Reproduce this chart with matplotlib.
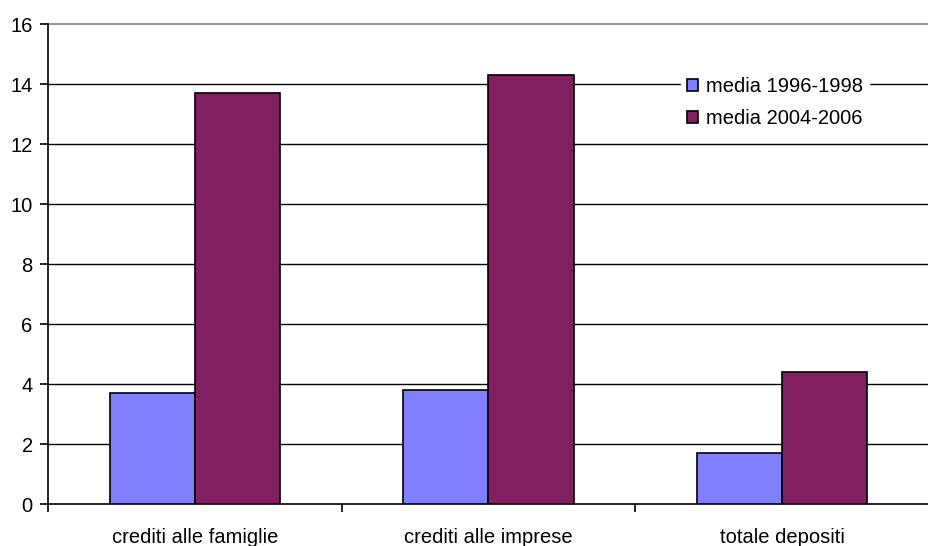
import matplotlib.pyplot as plt
import numpy as np

# growth rates, averages over two periods
categories = ['crediti alle famiglie', 'crediti alle imprese', 'totale depositi']
media_96_98 = [3.7, 3.8, 1.7]
media_04_06 = [13.7, 14.3, 4.4]
series_names = ['media 1996-1998', 'media 2004-2006']
yticks = [0, 2, 4, 6, 8, 10, 12, 14, 16]

plt.rcParams['font.family'] = ['Liberation Sans', 'DejaVu Sans']
fs = 14.5

fig = plt.figure(figsize=(9.29, 5.46), dpi=100)
ax = fig.add_axes([48/929, 42/546, 1 - 48/929, (504-24)/546])

x = np.arange(len(categories))
w = 0.29
ax.bar(x - w/2, media_96_98, w, color='#8080ff', edgecolor='black',
       linewidth=1.2, label=series_names[0], zorder=3)
ax.bar(x + w/2, media_04_06, w, color='#802060', edgecolor='black',
       linewidth=1.2, label=series_names[1], zorder=3)

ax.set_ylim(0, 16)
ax.set_xlim(-0.5, -0.5 + 881/297)
ax.set_yticks(yticks)
ax.set_yticklabels([str(t) for t in yticks], fontsize=fs)

# gridlines, top one in grey
for t in yticks[1:-1]:
    ax.axhline(t, color='black', linewidth=1.0, zorder=1)
ax.axhline(16, color='#999999', linewidth=1.5, zorder=1, clip_on=False)

# category labels centered, ticks at the boundaries
ax.set_xticks(np.arange(-0.5, len(categories), 1.0))
ax.set_xticklabels([])
ax.set_xticks(x, minor=True)
ax.set_xticklabels(categories, minor=True, fontsize=fs)
ax.tick_params(axis='x', which='minor', length=0, pad=17)
ax.tick_params(axis='x', which='major', length=6, width=1.2, direction='out')
ax.tick_params(axis='y', length=6, width=1.2, direction='out', pad=5)

for s in ['top', 'right']:
    ax.spines[s].set_visible(False)
ax.spines['left'].set_linewidth(1.2)
ax.spines['bottom'].set_linewidth(1.2)

leg = ax.legend(loc='upper left', bbox_to_anchor=((671-48)/881, 1 - 37/480),
                bbox_transform=ax.transAxes, frameon=True, fancybox=False,
                edgecolor='white', framealpha=1.0, fontsize=fs,
                handlelength=0.55, handleheight=0.55, handletextpad=0.4,
                labelspacing=0.65, borderpad=0.3)
leg.set_zorder(5)

fig.savefig('out.png', dpi=100)
